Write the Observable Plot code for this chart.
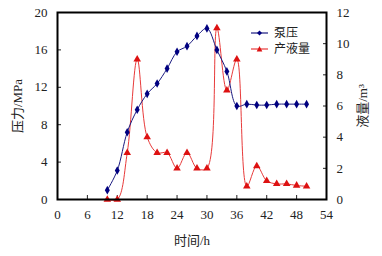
<!DOCTYPE html>
<html><head><meta charset="utf-8">
<script src="https://cdn.jsdelivr.net/npm/d3@7"></script>
<script src="https://cdn.jsdelivr.net/npm/@observablehq/plot@0.6"></script>
<style>
body{margin:0;background:#fff;}
#wrap{position:relative;width:382px;height:256px;font-family:"Liberation Serif","Noto Sans CJK SC",serif;}
#legend{position:absolute;left:251px;top:25px;font-size:12px;line-height:16px;color:#222;}
#legend div{display:flex;align-items:center;height:16px;}
#legend svg{margin-right:6px;}
</style></head><body>
<div id="wrap"><div id="chart"></div>
<div id="legend">
<div><svg width="17" height="10"><line x1="0" y1="5" x2="17" y2="5" stroke="#1a1a80" stroke-width="1.2"/><path d="M8.5,2.5L11,5L8.5,7.5L6,5Z" fill="#000080"/></svg>泵压</div>
<div><svg width="17" height="10"><line x1="0" y1="5" x2="17" y2="5" stroke="#e83a3a" stroke-width="1.2"/><path d="M8.5,2L11.3,7.5L5.7,7.5Z" fill="#dd1111"/></svg>产液量</div>
</div></div>
<script>
const hours = [10,12,14,16,18,20,22,24,26,28,30,32,34,36,38,40,42,44,46,48,50];
const pressure = [1.0,3.1,7.2,9.6,11.3,12.4,14.0,15.8,16.4,17.5,18.3,16.0,13.7,10.0,10.2,10.1,10.1,10.2,10.2,10.2,10.2];
const liquid = [0,0,3.0,9.0,4.0,3.0,3.0,2.0,3.0,2.0,2.0,11.0,7.0,9.0,0.85,2.15,1.2,1.0,1.0,0.9,0.85];
const xTicks = [0,6,12,18,24,30,36,42,48,54];
const leftTicks = [0,4,8,12,16,20];
const rightTicks = [0,2,4,6,8,10,12];
const k = 20/12;

const pData = hours.map((h,i)=>({h, v: pressure[i]}));
const qData = hours.map((h,i)=>({h, v: liquid[i]}));

const chart = Plot.plot({
  width: 382, height: 256,
  marginLeft: 57, marginRight: 56, marginTop: 12, marginBottom: 57,
  style: {fontFamily: '"Liberation Serif","Noto Sans CJK SC",serif', fontSize: "13px", color: "#222", background: "#fff"},
  x: {domain: [0,54]},
  y: {domain: [0,20]},
  marks: [
    Plot.axisX({ticks: xTicks, tickSize: -4, tickPadding: 14, label: "时间/h", labelAnchor: "center", labelOffset: 45, labelArrow: "none", fontSize: 13}),
    Plot.axisY({anchor: "left", ticks: leftTicks, tickSize: -4, tickPadding: 14, label: "压力/MPa", labelAnchor: "center", labelOffset: 45, labelArrow: "none", fontSize: 13}),
    Plot.axisY({anchor: "right", ticks: rightTicks.map(v=>v*k), tickFormat: d => String(Math.round(d/k)), tickSize: -4, tickPadding: 14, label: "液量/m³", labelAnchor: "center", labelOffset: 40, labelArrow: "none", fontSize: 13}),
    Plot.line(qData, {x: "h", y: d => d.v*k, stroke: "#e83a3a", strokeWidth: 1, curve: "catmull-rom"}),
    Plot.dot(qData, {x: "h", y: d => d.v*k, symbol: "triangle", fill: "#dd1111", r: 2.8}),
    Plot.line(pData, {x: "h", y: "v", stroke: "#1a1a80", strokeWidth: 1, curve: "catmull-rom"}),
    Plot.dot(pData, {x: "h", y: "v", symbol: "diamond", fill: "#000080", r: 2.6}),
    Plot.frame({stroke: "#000", strokeWidth: 2})
  ]
});
document.getElementById("chart").appendChild(chart);
</script>
</body></html>
